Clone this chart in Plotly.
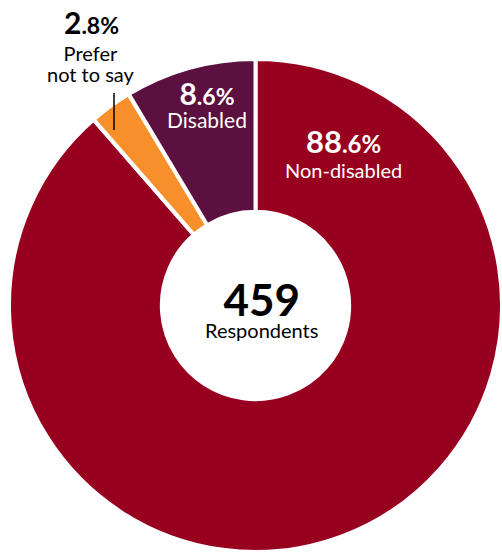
import plotly.graph_objects as go

# Survey breakdown by disability status
categories = ["Non-disabled", "Prefer not to say", "Disabled"]
shares = [88.6, 2.8, 8.6]
respondents = 459
slice_colors = ["#98001F", "#F7902A", "#5C1040"]

W, H = 502, 552
FONT = "Lato"


def px(x, y):
    """Pixel position -> paper coordinates."""
    return x / W, 1 - y / H


def pct_label(value, big, small):
    whole, frac = f"{value:.1f}".split(".")
    return (f"<span style='font-size:{big}px'><b>{whole}</b></span>"
            f"<span style='font-size:{small}px'><b>.{frac}%</b></span>")


def sized(text, size):
    return f"<span style='font-size:{size}px'>{text}</span>"


fig = go.Figure(
    go.Pie(
        labels=categories,
        values=shares,
        sort=False,
        direction="clockwise",
        rotation=0,
        hole=0.38,
        marker=dict(colors=slice_colors, line=dict(color="white", width=4)),
        textinfo="none",
        hoverinfo="label+percent",
        showlegend=False,
        domain=dict(x=[9 / W, 1], y=[0, 1 - 59 / H]),
    )
)

annots = []


def add(text, x, y, size, color):
    ax, ay = px(x, y)
    annots.append(dict(text=text, x=ax, y=ay, xref="paper", yref="paper",
                       showarrow=False, xanchor="center", yanchor="middle",
                       font=dict(family=FONT, size=size, color=color)))


# Non-disabled (base size sets the gap between the two lines)
add(pct_label(shares[0], 31, 24) + "<br>" + sized(categories[0], 20),
    343, 152, 19.2, "white")
# Disabled
add(pct_label(shares[2], 30, 23) + "<br>" + sized(categories[2], 21),
    207, 104, 17.7, "white")
# Prefer not to say (outside, with leader line)
add(pct_label(shares[1], 30, 23), 91, 22, 30, "black")
add(sized("Prefer", 20) + "<br>" + sized("not to say", 20), 91, 64, 16, "black")
# Centre total
add(sized(f"<b>{respondents}</b>", 44) + "<br>" + sized("Respondents", 20),
    261, 307, 17, "black")

fig.update_layout(
    width=W, height=H,
    margin=dict(l=0, r=0, t=0, b=0),
    paper_bgcolor="white",
    plot_bgcolor="white",
    annotations=annots,
    shapes=[dict(type="line", xref="paper", yref="paper",
                 x0=114 / W, x1=114 / W, y0=1 - 93 / H, y1=1 - 130 / H,
                 line=dict(color="black", width=1.5))],
)

fig.write_html("out.html")
